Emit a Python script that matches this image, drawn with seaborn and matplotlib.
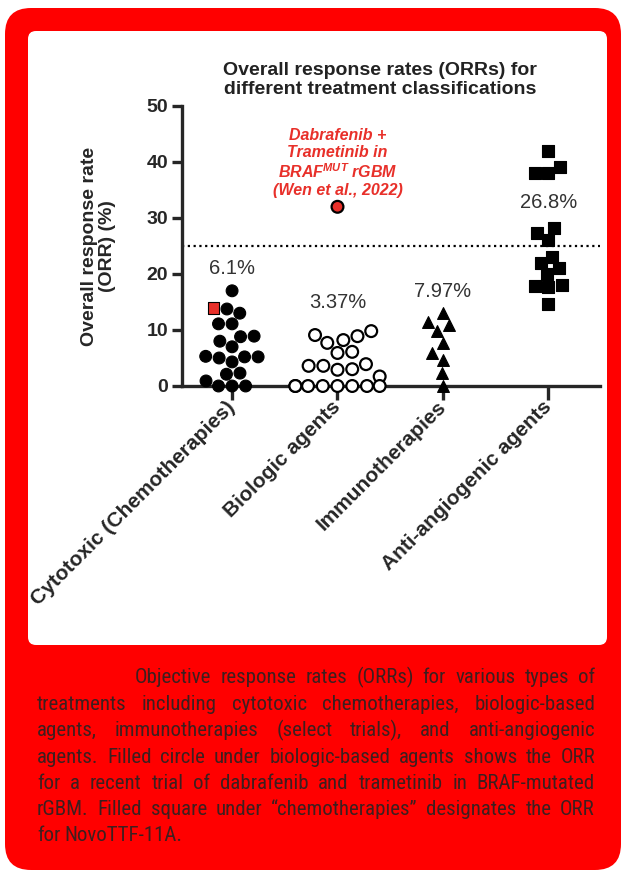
import numpy as np
import pandas as pd
import seaborn as sns
import matplotlib.pyplot as plt
from matplotlib import font_manager
from matplotlib.colors import to_rgba
from matplotlib.patches import FancyBboxPatch
from matplotlib.markers import MarkerStyle
from matplotlib.transforms import IdentityTransform

# ORR values (%)
categories = ["Cytotoxic (Chemotherapies)", "Biologic agents", "Immunotherapies", "Anti-angiogenic agents"]
chemo_orr = [17, 13.75, 13.0, 11.1, 11.1, 8.9, 8.8, 8.0, 7.0, 5.3, 5.2, 5.2, 5.0, 4.3, 2.3, 2.1, 0.9, 0, 0, 0]
novottf_orr = [14]
biologic_orr = [9.8, 9.1, 8.9, 8.2, 7.7, 6.1, 5.9, 3.9, 3.6, 3.6, 3.0, 2.9, 1.7, 0, 0, 0, 0, 0, 0, 0, 0]
dabrafenib_orr = [32]
immuno_orr = [13.0, 11.5, 10.9, 9.8, 7.7, 5.9, 4.6, 2.3, 0]
antiangio_orr = [42, 39.1, 38, 38, 28.2, 27.3, 26.1, 23.1, 22.0, 21.1, 20.0, 18.0, 17.9, 17.7, 14.6]
mean_labels = ["6.1%", "3.37%", "7.97%", "26.8%"]
threshold = 25

caption_lines = [
    "Objective response rates (ORRs) for various types of",
    "treatments including cytotoxic chemotherapies, biologic-based",
    "agents, immunotherapies (select trials), and anti-angiogenic",
    "agents. Filled circle under biologic-based agents shows the ORR",
    "for a recent trial of dabrafenib and trametinib in BRAF-mutated",
    "rGBM. Filled square under \u201cchemotherapies\u201d designates the ORR",
    "for NovoTTF-11A.",
]

rows = []
for cat, vals, kind in [(categories[0], chemo_orr, "trial"), (categories[0], novottf_orr, "novottf"),
                        (categories[1], biologic_orr, "trial"), (categories[1], dabrafenib_orr, "dabrafenib"),
                        (categories[2], immuno_orr, "trial"), (categories[3], antiangio_orr, "trial")]:
    for v in vals:
        rows.append({"category": cat, "orr": v, "kind": kind})
df = pd.DataFrame(rows)

sns.set_style("ticks")
plt.rcParams["font.family"] = ["Liberation Sans", "DejaVu Sans"]
plt.rcParams["mathtext.fontset"] = "custom"
plt.rcParams["mathtext.rm"] = "Liberation Sans:bold:italic"
plt.rcParams["mathtext.it"] = "Liberation Sans:bold:italic"

RED = "#ff0000"
MARK_RED = "#e8302a"
W, H = 622, 874

fig = plt.figure(figsize=(W / 100, H / 100), dpi=100)
fig.patch.set_facecolor("white")

# red card with white panel (pixel coordinates)
outer = FancyBboxPatch((5, 4), 616, 862, boxstyle="round,pad=0,rounding_size=26",
                       transform=IdentityTransform(), facecolor=RED, edgecolor="none", zorder=-3)
inner = FancyBboxPatch((28, 229), 579, 614, boxstyle="round,pad=0,rounding_size=8",
                       transform=IdentityTransform(), facecolor="white", edgecolor="none", zorder=-2)
fig.add_artist(outer)
fig.add_artist(inner)

ax = fig.add_axes([182 / W, 488 / H, 418 / W, 280 / H])
ax.patch.set_alpha(0)

styles = {
    categories[0]: dict(marker="o", color="black", linewidth=0.8),
    categories[1]: dict(marker="o", color="white", linewidth=1.6),
    categories[2]: dict(marker="^", color="black", linewidth=0.8),
    categories[3]: dict(marker="s", color="black", linewidth=0.8),
}

colls = {}
for cat in categories:
    sub = df[df["category"] == cat]
    n0 = len(ax.collections)
    sns.swarmplot(data=sub, x="category", y="orr", order=categories, size=8.5,
                  edgecolor="black", ax=ax, clip_on=False, zorder=3, warn_thresh=1, **styles[cat])
    for c in ax.collections[n0:]:
        if len(c.get_offsets()):
            colls[cat] = c

# restyle the highlighted single trials inside their swarms
def highlight(coll, value, marker):
    offs = np.asarray(coll.get_offsets())
    n = len(offs)
    idx = int(np.argmin(np.abs(offs[:, 1] - value)))
    fc = np.tile(coll.get_facecolors()[0], (n, 1))
    fc[idx] = to_rgba(MARK_RED)
    coll.set_facecolors(fc)
    coll.set_edgecolors("black")
    if marker is not None:
        base = coll.get_paths()[0]
        m = MarkerStyle(marker)
        sq = m.get_path().transformed(m.get_transform())
        paths = [base] * n
        paths[idx] = sq
        coll.set_paths(paths)

highlight(colls[categories[0]], novottf_orr[0], "s")
highlight(colls[categories[1]], dabrafenib_orr[0], None)

ax.axhline(threshold, color="black", ls=(0, (1, 1.6)), lw=1.6, zorder=2)

label_y = [21, 15, 16.8, 32.7]
for i, lab in enumerate(mean_labels):
    ax.text(i, label_y[i], lab, ha="center", va="center", fontsize=14.5, color="#333333")

ax.text(1, 39.8, "Dabrafenib +\nTrametinib in\nBRAF$^{\\mathrm{MUT}}$ rGBM\n(Wen et al., 2022)",
        ha="center", va="center", fontsize=11.5, fontweight="bold", fontstyle="italic",
        color=MARK_RED, linespacing=1.15)

ax.set_xlim(-0.475, 3.49)
ax.set_ylim(0, 50)
ax.set_yticks(range(0, 51, 10))
ax.set_xlabel("")
ax.set_ylabel("Overall response rate\n(ORR) (%)", fontsize=14, fontweight="bold", labelpad=22, linespacing=1.1)
sns.despine(ax=ax)
for s in ["left", "bottom"]:
    ax.spines[s].set_linewidth(2.4)
ax.tick_params(axis="y", length=7, width=2.4, labelsize=14, pad=3)
ax.tick_params(axis="x", length=10, width=2.4, labelsize=15, pad=3)
for t in ax.get_yticklabels():
    t.set_fontweight("bold")
ax.set_xticks(range(len(categories)))
ax.set_xticklabels(categories, rotation=45, ha="right", va="center", rotation_mode="anchor", fontweight="bold")

fig.text(380 / W, 1 - 80 / H, "Overall response rates (ORRs) for\ndifferent treatment classifications",
         ha="center", va="center", fontsize=14, fontweight="bold", color="#222222", linespacing=1.2)


# caption font: a narrow/condensed face if one is installed
def caption_font(size):
    prefs = ["Liberation Sans Narrow", "Roboto Condensed", "Open Sans Condensed", "DejaVu Sans"]
    found = {}
    for f in font_manager.fontManager.ttflist:
        narrow = "Narrow" in f.name or "Condensed" in f.name or f.stretch in ("condensed", "semi-condensed")
        if narrow and f.style == "normal" and f.weight in (400, "normal", "regular", "book"):
            found.setdefault(f.name, f.fname)
    for name in prefs:
        if name in found:
            return font_manager.FontProperties(fname=found[name], size=size)
    if found:
        return font_manager.FontProperties(fname=next(iter(found.values())), size=size)
    return font_manager.FontProperties(family="Liberation Sans", size=size)


fig.canvas.draw()
renderer = fig.canvas.get_renderer()
baselines = [683, 710, 736, 763, 789, 815, 841]
x_lefts = [135] + [37] * 6
x_right = 595
min_gap = 4.5


def word_widths(words, prop):
    return [renderer.get_text_width_height_descent(w, prop, ismath=False)[0] for w in words]


size = 15.0
prop = caption_font(size)
fit = min((x_right - x_lefts[k] - min_gap * (len(l.split()) - 1)) / sum(word_widths(l.split(), prop))
          for k, l in enumerate(caption_lines[:-1]))
if fit < 1:
    size *= fit
    prop = caption_font(size)

for k, line in enumerate(caption_lines):
    words = line.split()
    widths = word_widths(words, prop)
    if k == len(caption_lines) - 1:
        gap = min_gap
    else:
        gap = (x_right - x_lefts[k] - sum(widths)) / (len(words) - 1)
    x = x_lefts[k]
    for w, wd in zip(words, widths):
        fig.text(x / W, 1 - baselines[k] / H, w, fontproperties=prop, color="#3d1f1f", va="baseline")
        x += wd + gap

fig.savefig("out.png", dpi=100)
